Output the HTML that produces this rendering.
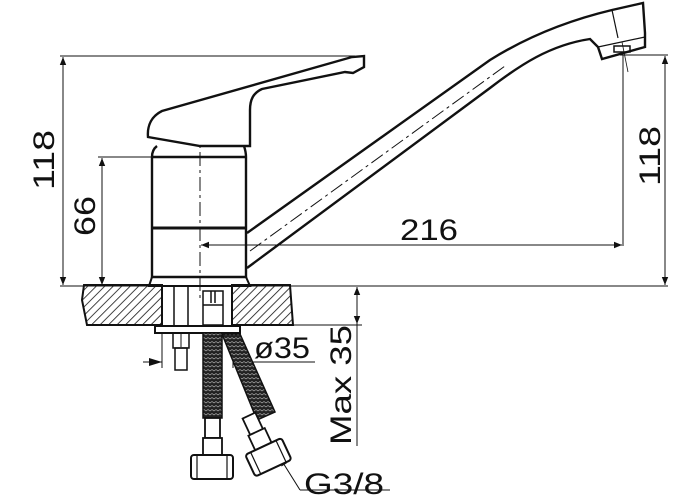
<!DOCTYPE html>
<html><head><meta charset="utf-8"><style>
html,body{margin:0;padding:0;background:#fff;}
svg{display:block;}
text{font-family:"Liberation Sans",sans-serif;fill:#111;}
</style></head><body>
<svg width="700" height="500" viewBox="0 0 700 500" xmlns="http://www.w3.org/2000/svg">
<defs>
<pattern id="h" width="6" height="6" patternUnits="userSpaceOnUse" patternTransform="rotate(45)">
<line x1="0" y1="0" x2="0" y2="6" stroke="#111" stroke-width="1.6"/>
</pattern>
<pattern id="br" width="4" height="4" patternUnits="userSpaceOnUse">
<rect width="4" height="4" fill="#222"/>
<path d="M0 1.5 L2 3 L4 1.5" stroke="#bbb" stroke-width="0.6" fill="none"/>
</pattern>
<marker id="a" viewBox="0 0 10 10" refX="10" refY="5" markerWidth="13" markerHeight="8" orient="auto-start-reverse" markerUnits="userSpaceOnUse">
<path d="M0 1 L10 5 L0 9Z" fill="#111"/>
</marker>
</defs>
<g stroke="#111" fill="none">
<g stroke-width="1">
<line x1="60" y1="56" x2="355" y2="56"/>
<line x1="60" y1="286" x2="668" y2="286"/>
<line x1="63" y1="57" x2="63" y2="285" marker-start="url(#a)" marker-end="url(#a)"/>
<line x1="98" y1="157" x2="152" y2="157"/>
<line x1="102" y1="158" x2="102" y2="285" marker-start="url(#a)" marker-end="url(#a)"/>
<line x1="620" y1="55" x2="668" y2="55"/>
<line x1="623" y1="55" x2="623" y2="246"/>
<line x1="665" y1="56" x2="665" y2="285" marker-start="url(#a)" marker-end="url(#a)"/>
<line x1="201" y1="245" x2="622" y2="245" marker-start="url(#a)" marker-end="url(#a)"/>
<line x1="240" y1="325" x2="362" y2="325"/>
<line x1="357" y1="287" x2="357" y2="446"/>
<line x1="143" y1="362" x2="162" y2="362"/>
<line x1="233" y1="362" x2="315" y2="362"/>
<line x1="162" y1="333" x2="162" y2="368"/>
<line x1="233" y1="333" x2="233" y2="368"/>
<line x1="390" y1="490" x2="300" y2="490"/>
<line x1="300" y1="490" x2="280" y2="458" marker-end="url(#a)"/>
</g>
<path d="M162 362 L149 358 L149 366 Z M233 362 L246 358 L246 366 Z" fill="#111" stroke="none"/>
<line x1="357" y1="302" x2="357" y2="287" stroke-width="1" marker-end="url(#a)"/>
<line x1="357" y1="309" x2="357" y2="324" stroke-width="1" marker-end="url(#a)"/>
<line x1="200" y1="102" x2="200" y2="300" stroke-width="1" stroke-dasharray="14 4 3 4"/>
<line x1="250" y1="251" x2="505" y2="66" stroke-width="1" stroke-dasharray="14 4 3 4"/>
<line x1="622" y1="42" x2="628" y2="72" stroke-width="0.8"/>
<path d="M148 137 C147 125 152 116 162 111 L352 57 L364 56 L364 67 L353 73 L345 72 L262 89 C253 93 250 100 250 110 L250 146 L200 146 Z" stroke-width="2.4" fill="#fff"/>
<path d="M157 146 C153 149 152 153 152 157 L152 277 L246 277 L246 157 C246 152 245 149 244 146" stroke-width="2.4"/>
<line x1="152" y1="157" x2="246" y2="157" stroke-width="2.6"/>
<line x1="152" y1="228" x2="246" y2="228" stroke-width="3"/>
<path d="M152 277 L149 286 L250 286 L246 277" stroke-width="2"/>
<path d="M247 233 L490 60 C530 35 570 20 612 10 L643 3 L645 33 L645 47 L602 59 L598 47 L590 39 C550 45 520 65 490 88 L247 268" stroke-width="2.4"/>
<path d="M612 10 L618 38 M598 47 L645 37" stroke-width="1.2"/>
<rect x="614" y="46" width="16" height="6" stroke-width="1.5"/>
<path d="M84 285 L162 285 L162 325 L87 325 L82 300 Z" fill="url(#h)" stroke-width="2"/>
<path d="M232 285 L290 285 L293 325 L232 325 Z" fill="url(#h)" stroke-width="2"/>
<g stroke-width="1.5">
<line x1="174" y1="286" x2="174" y2="325"/>
<line x1="188" y1="286" x2="188" y2="325"/>
<rect x="203" y="291" width="20" height="34"/>
<line x1="203" y1="305" x2="223" y2="305"/>
<line x1="211" y1="291" x2="211" y2="303"/>
<line x1="215" y1="291" x2="215" y2="303"/>
</g>
<rect x="155" y="326" width="85" height="7" stroke-width="2"/>
<rect x="173" y="333" width="16" height="15" stroke-width="1.5"/>
<line x1="181" y1="333" x2="181" y2="347" stroke-width="1"/>
<rect x="175" y="348" width="12" height="22" stroke-width="1.5"/>
<path d="M222 334 L240 334 L275 412 L257 420 Z" fill="url(#br)" stroke-width="1.5"/>
<rect x="203" y="333" width="19" height="85" fill="url(#br)" stroke-width="1.5"/>
<rect x="205" y="418" width="15" height="20" stroke-width="1.8" fill="#fff"/>
<rect x="203" y="438" width="19" height="17" stroke-width="1.8" fill="#fff"/>
<rect x="191" y="455" width="42" height="24" rx="3" stroke-width="2" fill="#fff"/>
<line x1="197" y1="455" x2="197" y2="479" stroke-width="1.2"/>
<line x1="227" y1="455" x2="227" y2="479" stroke-width="1.2"/>
<g transform="translate(265,450) rotate(-25)">
<rect x="-7" y="-38" width="14" height="18" stroke-width="1.8" fill="#fff"/>
<rect x="-9" y="-20" width="18" height="16" stroke-width="1.8" fill="#fff"/>
<rect x="-20" y="-4" width="40" height="24" rx="3" stroke-width="2" fill="#fff"/>
<line x1="-14" y1="-4" x2="-14" y2="20" stroke-width="1.2"/>
<line x1="14" y1="-4" x2="14" y2="20" stroke-width="1.2"/>
</g>
</g>
<text x="400" y="240" font-size="30" textLength="58" lengthAdjust="spacingAndGlyphs">216</text>
<text transform="translate(54,190) rotate(-90)" font-size="30" textLength="60" lengthAdjust="spacingAndGlyphs">118</text>
<text transform="translate(95,236) rotate(-90)" font-size="30" textLength="40" lengthAdjust="spacingAndGlyphs">66</text>
<text transform="translate(660,186) rotate(-90)" font-size="30" textLength="60" lengthAdjust="spacingAndGlyphs">118</text>
<text x="254" y="358" font-size="30" textLength="56" lengthAdjust="spacingAndGlyphs">ø35</text>
<text transform="translate(351,445) rotate(-90)" font-size="30" textLength="120" lengthAdjust="spacingAndGlyphs">Max 35</text>
<text x="304" y="494" font-size="30" textLength="80" lengthAdjust="spacingAndGlyphs">G3/8</text>
</svg>
</body></html>
